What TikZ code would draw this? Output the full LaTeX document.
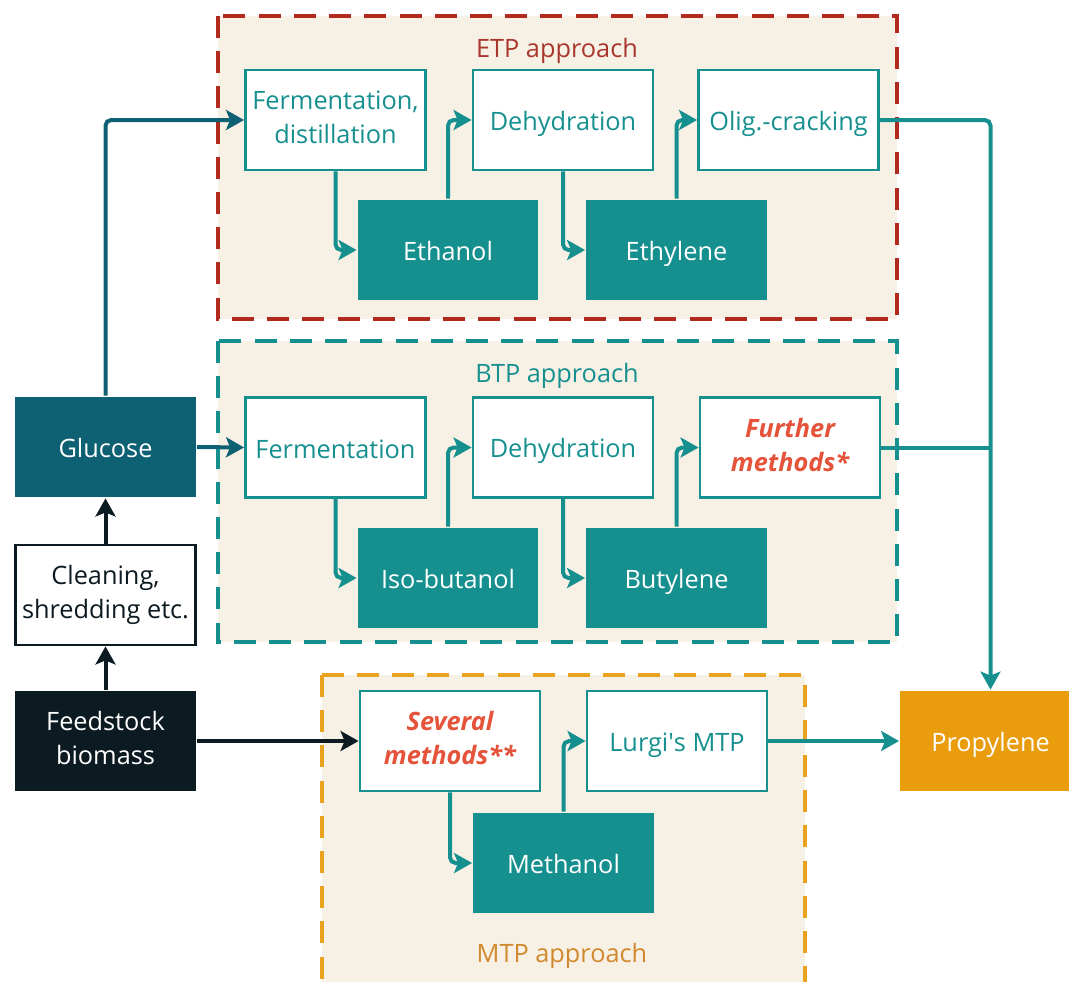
\documentclass[tikz,border=0pt]{standalone}
\usepackage{fontspec}
\setmainfont{Open Sans}
\usetikzlibrary{arrows.meta}

\begin{document}
\begin{tikzpicture}[
    x=0.025cm, y=-0.025cm,
    every node/.style={font=\fontsize{18}{24}\selectfont},
]

% ---------------------------------------------------------------- colours
\definecolor{c1}{HTML}{16908F}   % the process chain
\definecolor{c2}{HTML}{0E6073}   % glucose
\definecolor{c3}{HTML}{0C1A21}   % the raw feedstock
\definecolor{c4}{HTML}{E99C0C}   % the product
\definecolor{bgcolor}{HTML}{F7F1E5}
\definecolor{etpcolor}{HTML}{B22A1E}
\definecolor{etptext}{HTML}{A8372E}
\definecolor{mtpcolor}{HTML}{E9A21B}
\definecolor{mtptext}{HTML}{D2882C}
\definecolor{notecolor}{HTML}{E4533A}

\tikzset{
    box/.style={rectangle, minimum width=4.5cm, minimum height=2.5cm,
                inner sep=2pt, align=center, line width=2pt,
                execute at begin node=\rule[-4pt]{0pt}{23pt},
                execute at end node=\rule[-4pt]{0pt}{23pt}},
    pair/.style={execute at begin node=\rule[-4pt]{0pt}{33pt}},
    open/.style={box, draw=c1, fill=white, text=c1},
    prod/.style={box, fill=c1, text=white},
    note/.style={open, pair, text=notecolor, font=\fontsize{18}{24}\selectfont\bfseries\itshape},
    grp/.style={fill=bgcolor, line width=0.1cm, dash pattern=on 0.55cm off 0.33cm},
    flow/.style={-{Stealth[length=0.45cm, width=0.5cm, inset=0.1cm]},
                 line width=0.1cm, rounded corners=4pt, draw=c1},
}

\useasboundingbox (0,0) rectangle (1069,981);

% ----------------------------------------------------------------------
% the three approaches
% ----------------------------------------------------------------------
\draw[grp, draw=etpcolor] (218,16) rectangle (897,319);
\draw[grp, draw=c1] (218,341) rectangle (897,642);
\draw[grp, draw=mtpcolor] (322,675) rectangle (805,995);

\node[text=etptext] (etp) at (557,51) {ETP approach};
\node[text=c1] (btp) at (557,376) {BTP approach};
\node[text=mtptext] (mtp) at (562,956) {MTP approach};

% ETP
\node[open, pair] (fd) at (335.5,120) {Fermentation,\\distillation};
\node[open] (dh1) at (563,120) {Dehydration};
\node[open] (olig) at (788.5,120) {Olig.-cracking};
\node[prod] (eth) at (448,250) {Ethanol};
\node[prod] (ethy) at (676.5,250) {Ethylene};

% BTP
\node[open] (ferm) at (335.5,447.5) {Fermentation};
\node[open] (dh2) at (563,447.5) {Dehydration};
\node[note] (further) at (790,447.5) {Further\\methods*};
\node[prod] (iso) at (448,578) {Iso-butanol};
\node[prod] (buty) at (676.5,578) {Butylene};

% MTP
\node[note] (sev) at (450,741) {Several\\methods**};
\node[open] (lurgi) at (677,741) {Lurgi\textquotesingle s MTP};
\node[prod] (meth) at (563.5,863) {Methanol};

% ----------------------------------------------------------------------
% feedstock side and the product
% ----------------------------------------------------------------------
\node[box, fill=c2, text=white] (glu) at (105.5,447) {Glucose};
\node[box, pair, draw=c3, fill=white, text=c3] (clean) at (105.5,595) {Cleaning,\\shredding etc.};
\node[box, pair, fill=c3, text=white] (feed) at (105.5,741) {Feedstock\\biomass};
\node[box, fill=c4, text=white] (prop) at (990.5,741) {Propylene};

% ----------------------------------------------------------------------
% connectors
% ----------------------------------------------------------------------
\draw[flow, draw=c3] (feed.north) -- (clean.south);
\draw[flow, draw=c3] (clean.north) -- (glu.south);
\draw[flow, draw=c3] (feed.east) -- (sev.west);
\draw[flow, draw=c2] (glu.north) |- (fd.west);
\draw[flow, draw=c2] (glu.east) -- (ferm.west);

\draw[flow] (fd.south) |- (eth.west);
\draw[flow] (eth.north) |- (dh1.west);
\draw[flow] (dh1.south) |- (ethy.west);
\draw[flow] (ethy.north) |- (olig.west);

\draw[flow] (ferm.south) |- (iso.west);
\draw[flow] (iso.north) |- (dh2.west);
\draw[flow] (dh2.south) |- (buty.west);
\draw[flow] (buty.north) |- (further.west);

\draw[flow] (sev.south) |- (meth.west);
\draw[flow] (meth.north) |- (lurgi.west);

\draw[flow] (olig.east) -| (prop.north);
\draw[line width=0.1cm, c1] (further.east) -- (further.east -| prop.north);
\draw[flow] (lurgi.east) -- (prop.west);

\end{tikzpicture}
\end{document}
